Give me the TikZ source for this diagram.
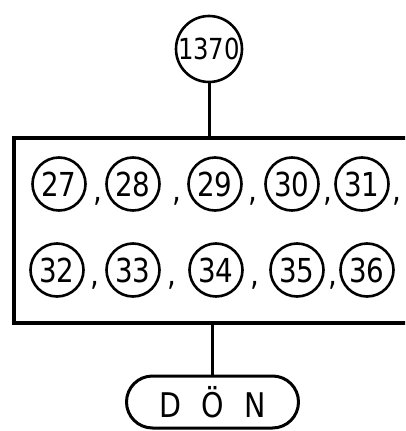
\documentclass[tikz,border=0pt]{standalone}
\usepackage{fontspec}
\setmainfont{DejaVu Sans}[FakeStretch=0.84]
\usetikzlibrary{positioning}

\tikzset{
  numc/.style={draw, circle, line width=2.6pt, inner sep=0pt, minimum size=53pt,
    font=\fontsize{33}{40}\selectfont},
  komma/.style={inner sep=0pt, anchor=base, font=\fontsize{33}{40}\selectfont},
  donbox/.style={draw, line width=3pt, rounded corners=26pt, minimum width=172pt,
    minimum height=52pt, inner sep=0pt, font=\fontsize{34}{40}\selectfont},
  link/.style={line width=3pt}
}

\begin{document}
\begin{tikzpicture}[x=1pt, y=-1pt]
    \useasboundingbox (0,0) rectangle (405,431);
    \clip (0,0) rectangle (405,431);
%%   kw   (name)   (x, y)   {text}
    \node[numc, minimum size=66pt, font=\fontsize{29}{36}\selectfont] (n1370) at (209,49) {1370};
    \node[draw, line width=3.5pt, anchor=north west, minimum width=420pt,
          minimum height=185pt, inner sep=0pt] (blk) at (12,136) {};
    % first row
    \node[numc] (c27) at (59,184) {27};
    \node[numc] (c28) at (133,184) {28};
    \node[numc] (c29) at (215,184) {29};
    \node[numc] (c30) at (292,184) {30};
    \node[numc] (c31) at (362,184) {31};
    \node[komma] (k1) at (98,201) {,};
    \node[komma] (k2) at (177,201) {,};
    \node[komma] (k3) at (253,201) {,};
    \node[komma] (k4) at (328,201) {,};
    \node[komma] (k5) at (397,201) {,};
    % second row
    \node[numc] (c32) at (57,270) {32};
    \node[numc] (c33) at (133,270) {33};
    \node[numc] (c34) at (216,270) {34};
    \node[numc] (c35) at (297,270) {35};
    \node[numc] (c36) at (367,270) {36};
    \node[komma] (k6) at (95,285) {,};
    \node[komma] (k7) at (172,285) {,};
    \node[komma] (k8) at (255,285) {,};
    \node[komma] (k9) at (333,285) {,};
    % return
    \node[donbox] (don) at (212.5,402) {D\hspace{20pt}Ö\hspace{20pt}N};
    \draw[link] (n1370) -- (n1370 |- blk.north);
    \draw[link] (don.north |- blk.south) -- (don);
\end{tikzpicture}
\end{document}
